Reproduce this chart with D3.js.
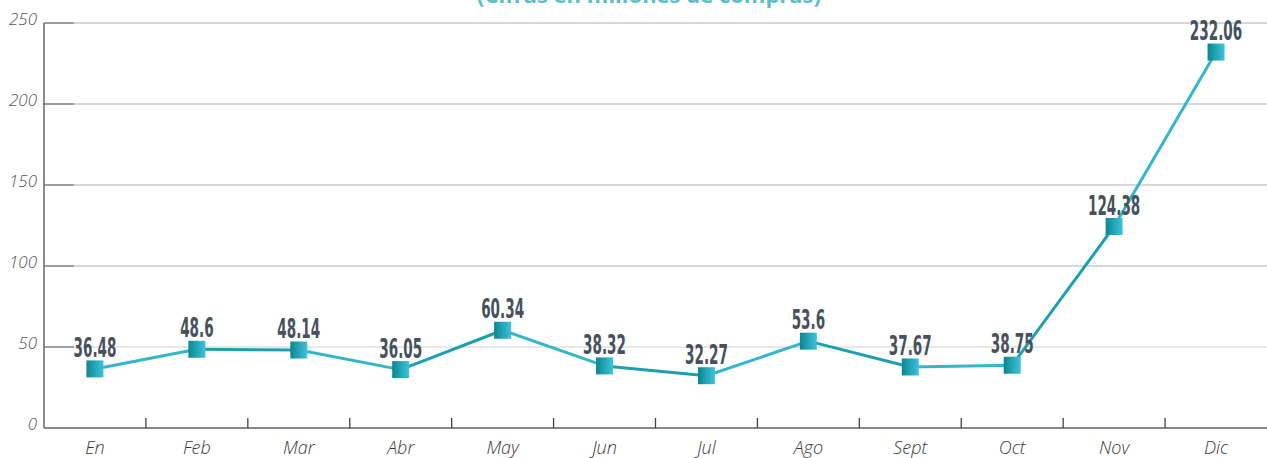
<!DOCTYPE html>
<meta charset="utf-8">
<style>
body { margin: 0; background: #fff; }
.ylab { font: italic 300 17px "Open Sans", sans-serif; fill: #555; }
.xlab { font: italic 300 18px "Open Sans", sans-serif; fill: #3a3a3a; }
.val { font: bold 26px "Liberation Sans Narrow", "DejaVu Sans Condensed", sans-serif; fill: #46515b; }
.title { font: bold 22px "Open Sans", sans-serif; fill: #5dbdc6; }
</style>
<body>
<script src="https://cdn.jsdelivr.net/npm/d3@7"></script>
<script>

var months = ["En", "Feb", "Mar", "Abr", "May", "Jun", "Jul", "Ago", "Sept", "Oct", "Nov", "Dic"];
var values = [36.48, 48.6, 48.14, 36.05, 60.34, 38.32, 32.27, 53.6, 37.67, 38.75, 124.38, 232.06];
var labels = ["36.48", "48.6", "48.14", "36.05", "60.34", "38.32", "32.27", "53.6", "37.67", "38.75", "124.38", "232.06"];
var yTicks = [0, 50, 100, 150, 200, 250];

var width = 1267, height = 458;
var mLeft = 44, mRight = 1267, mTop = 23, mBottom = 428;

var svg = d3.select("body").append("svg")
    .attr("width", width)
    .attr("height", height);

var defs = svg.append("defs");
var grad = defs.append("linearGradient").attr("id", "mk")
    .attr("x1", "0%").attr("x2", "100%").attr("y1", "0%").attr("y2", "0%");
grad.append("stop").attr("offset", "0%").attr("stop-color", "#0b8690");
grad.append("stop").attr("offset", "100%").attr("stop-color", "#3ec3dc");

var x = d3.scaleBand().domain(months).range([mLeft, mRight]);
var y = d3.scaleLinear().domain([0, 250]).range([mBottom, mTop]);

// title, mostly cut off at the top edge
svg.append("text").attr("class", "title")
    .attr("x", 649).attr("y", 3)
    .attr("text-anchor", "middle")
    .text("(Cifras en millones de compras)");

// grid lines
svg.selectAll(".grid").data(yTicks.slice(1)).enter().append("line")
    .attr("x1", mLeft).attr("x2", mRight)
    .attr("y1", function(d) { return y(d); })
    .attr("y2", function(d) { return y(d); })
    .attr("stroke", function(d) { return d === 50 ? "#cfcfcf" : "#b0b0b0"; })
    .attr("stroke-width", 1.2);

// short dark stubs on the left of each grid line
svg.selectAll(".stub").data(yTicks).enter().append("line")
    .attr("x1", mLeft).attr("x2", mLeft + 30)
    .attr("y1", function(d) { return y(d); })
    .attr("y2", function(d) { return y(d); })
    .attr("stroke", "#8a8a8a").attr("stroke-width", 1.5);

// axes
svg.append("line").attr("x1", mLeft).attr("x2", mLeft).attr("y1", mTop).attr("y2", mBottom)
    .attr("stroke", "#666").attr("stroke-width", 1.5);
svg.append("line").attr("x1", mLeft).attr("x2", mRight).attr("y1", mBottom).attr("y2", mBottom)
    .attr("stroke", "#888").attr("stroke-width", 2);

svg.selectAll(".xtick").data(months.slice(1)).enter().append("line")
    .attr("x1", function(d) { return x(d); })
    .attr("x2", function(d) { return x(d); })
    .attr("y1", mBottom - 10).attr("y2", mBottom)
    .attr("stroke", "#444").attr("stroke-width", 1.3);

svg.selectAll(".ylab").data(yTicks).enter().append("text")
    .attr("class", "ylab")
    .attr("x", 37)
    .attr("y", function(d) { return y(d) + 2; })
    .attr("text-anchor", "end")
    .text(function(d) { return d; });

svg.selectAll(".xlab").data(months).enter().append("text")
    .attr("class", "xlab")
    .attr("x", function(d) { return x(d) + x.bandwidth() / 2; })
    .attr("y", 454)
    .attr("text-anchor", "middle")
    .text(function(d) { return d; });

// line
var pts = months.map(function(m, i) { return [x(m) + x.bandwidth() / 2, y(values[i])]; });
svg.selectAll(".seg").data(d3.pairs(pts)).enter().append("line")
    .attr("x1", function(d) { return d[0][0]; })
    .attr("y1", function(d) { return d[0][1]; })
    .attr("x2", function(d) { return d[1][0]; })
    .attr("y2", function(d) { return d[1][1]; })
    .attr("stroke", function(d, i) { return i % 2 ? "#1d9fb0" : "#34b5cc"; })
    .attr("stroke-width", 3);

// markers
svg.selectAll(".mk").data(pts).enter().append("rect")
    .attr("x", function(d) { return d[0] - 8.5; })
    .attr("y", function(d) { return d[1] - 8.5; })
    .attr("width", 17).attr("height", 17)
    .attr("fill", "url(#mk)");

// value labels
svg.selectAll(".val").data(pts).enter().append("text")
    .attr("class", "val")
    .attr("transform", function(d) { return "translate(" + d[0] + "," + (d[1] - 12) + ") scale(0.58,1)"; })
    .attr("text-anchor", "middle")
    .text(function(d, i) { return labels[i]; });

</script>
</body>
